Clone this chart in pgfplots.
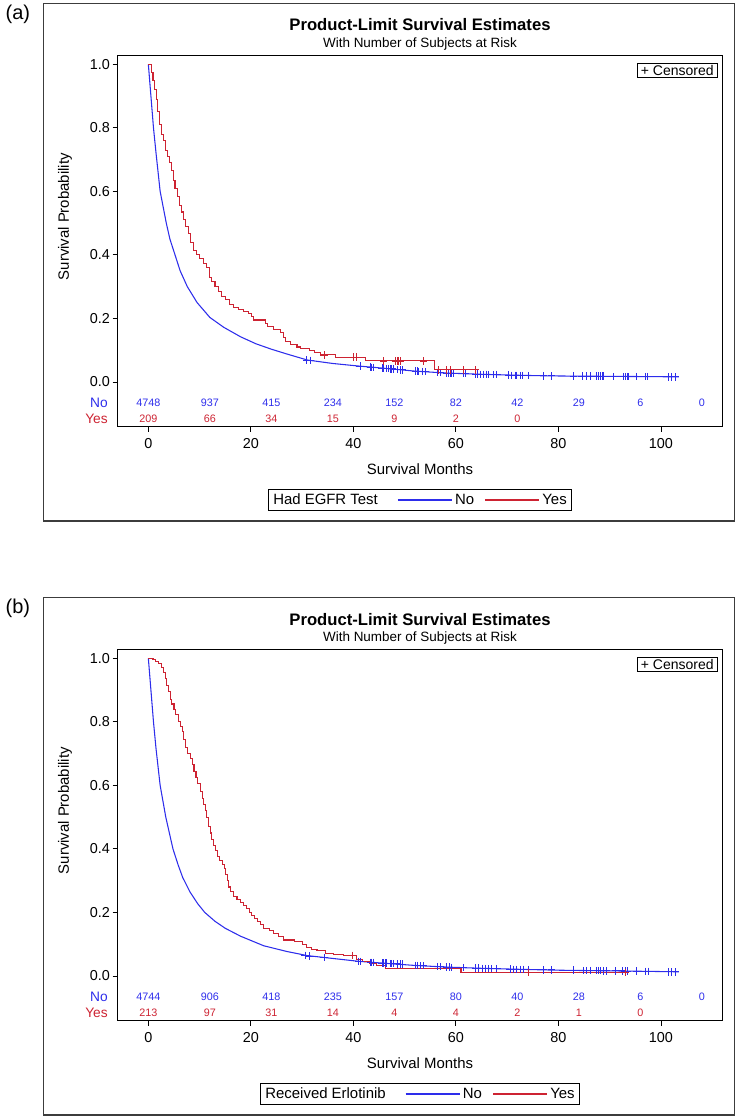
\documentclass[border=0pt]{standalone}
\usepackage{pgfplots}
\pgfplotsset{compat=1.18}
\usepackage{fontspec}
\setmainfont{Liberation Sans}
\definecolor{kmblue}{RGB}{45,45,235}
\definecolor{kmred}{RGB}{205,35,50}
\definecolor{frm}{RGB}{60,60,60}

\newcommand{\fs}[1]{\fontsize{#1}{#1}\selectfont}

\pgfplotsset{
 km/.style={
  scale only axis, width=453.6pt, height=278.25pt,
  anchor=south west,
  xmin=-6, xmax=112, ymin=-0.141, ymax=1.027,
  xtick={0,20,40,60,80,100}, ytick={0,0.2,0.4,0.6,0.8,1},
  yticklabel style={/pgf/number format/fixed, /pgf/number format/fixed zerofill, /pgf/number format/precision=1},
  /pgf/number format/assume math mode=true,
  tick pos=left, tick align=outside, major tick length=3.8pt,
  tick style={black, line width=0.6pt},
  axis line style={black, line width=0.7pt},
  ticklabel style={font=\fs{10.8}},
  xticklabel style={yshift=-1.2pt},
  yticklabel style={xshift=1.5pt},
  every axis x label/.style={at={(axis description cs:0.5,0)}, anchor=center, yshift=-32pt, font=\fs{11.2}},
  every axis y label/.style={at={(axis description cs:-0.087,0.566)}, rotate=90, anchor=center, font=\fs{11.2}},
  xlabel={Survival Months}, ylabel={Survival Probability},
  clip=false,
  legend columns=3,
  legend image code/.code={\draw[#1] (0pt,0pt) -- (40.5pt,0pt);},
  legend style={at={(axis description cs:0.5,-0.1976)}, anchor=center, draw=black, line width=0.6pt,
    font=\fs{11.2}, inner xsep=1.5pt, inner ysep=1pt, nodes={inner xsep=2pt, inner ysep=2pt}},
 },
 risk/.style={forget plot, only marks, mark=none, nodes near coords, point meta=explicit symbolic,
   nodes near coords style={anchor=center, font=\fs{8.1}, text=#1}},
 cens/.style={forget plot, only marks, mark=+, mark size=2.8pt, mark options={#1, line width=0.6pt}},
}

\begin{document}
\begin{tikzpicture}[x=0.75pt,y=-0.75pt]
\useasboundingbox (0,0) rectangle (738,1119);

% ---------------- panel (a) ----------------
\node[anchor=base west, font=\fs{15}] at (1,19.5) {(a)};
\draw[frm, line width=0.8pt] (43.5,3.5) rectangle (734.5,521);
\node[anchor=base, font=\bfseries\fs{12.5}] at (420,31) {Product-Limit Survival Estimates};
\node[anchor=base, font=\fs{10.1}] at (420,47.5) {With Number of Subjects at Risk};
\node[anchor=east, font=\fs{10.3}, text=kmblue, inner sep=0pt] at (108,402.7) {No};
\node[anchor=east, font=\fs{10.3}, text=kmred, inner sep=0pt] at (108,419) {Yes};
\coordinate (A) at (117.6,426.7);

\begin{axis}[km, at={(A)}]
\addlegendimage{empty legend}
\addlegendentry{Had EGFR Test\rule{12.6pt}{0pt}}
\addplot[kmblue, line width=0.8pt] coordinates {
(0,1.0) (0.5,0.9) (1,0.8) (1.5,0.72) (2.3,0.6) (3.5,0.5) (4.2,0.45) (5.1,0.405) (6.2,0.35)
(7.6,0.30) (9.5,0.25) (12,0.203) (14.7,0.172) (18,0.142) (21,0.12) (24,0.103) (27,0.088)
(31,0.069) (36,0.058) (41,0.050) (46,0.043) (52,0.034) (58,0.028) (65,0.024) (72,0.021)
(78,0.019) (85,0.018) (95,0.017) (103.5,0.016)};
\addlegendentry{No\rule{5.9pt}{0pt}}
\addplot[kmred, line width=0.8pt, const plot] coordinates {
(0,1.0) (0.6,0.975) (0.9,0.95) (1.2,0.92) (1.5,0.89) (1.8,0.85) (2.1,0.81) (2.5,0.78)
(2.9,0.76) (3.3,0.73) (3.7,0.71) (4.1,0.69) (4.5,0.665) (4.9,0.635) (5.2,0.61) (5.6,0.585)
(6.0,0.555) (6.5,0.535) (6.9,0.51) (7.3,0.49) (7.8,0.468) (8.3,0.44) (8.8,0.415) (9.4,0.40)
(10.0,0.388) (10.7,0.372) (11.3,0.36) (11.9,0.33) (12.4,0.315) (13.0,0.30) (13.6,0.285)
(14.3,0.268) (15.0,0.258) (15.8,0.245) (16.6,0.235) (17.5,0.228) (18.6,0.222) (19.5,0.215)
(20.2,0.205) (20.6,0.195) (22.8,0.185) (23.3,0.174) (24.5,0.165) (25.7,0.155) (26.4,0.14)
(26.8,0.128) (27.7,0.117) (29.0,0.11) (29.6,0.106) (31.5,0.098) (32.5,0.092) (33.5,0.085)
(36.5,0.078) (42.3,0.066) (55.9,0.038) (64.1,0.038)};
\addlegendentry{Yes}
\addplot[cens=kmblue] coordinates {
(30.9,0.069) (31.6,0.068) (41.3,0.050) (43.3,0.047) (43.6,0.046) (44.0,0.046) (45.6,0.044)
(45.9,0.043) (46.5,0.042) (46.9,0.042) (47.2,0.041) (47.5,0.041) (47.8,0.040) (48.5,0.039)
(49.1,0.038) (49.5,0.038) (52.1,0.034) (52.4,0.034) (52.7,0.033) (53.4,0.033) (54.0,0.032)
(56.3,0.030) (56.9,0.029) (58.2,0.028) (58.6,0.028) (58.9,0.028) (59.2,0.027) (59.5,0.027)
(61.5,0.026) (61.8,0.026) (63.8,0.025) (64.1,0.025) (64.7,0.024) (65.4,0.024) (66.0,0.024)
(66.4,0.023) (67.3,0.023) (68.0,0.023) (70.3,0.022) (70.9,0.021) (71.6,0.021) (71.9,0.021)
(72.5,0.021) (72.9,0.021) (74.2,0.020) (77.1,0.019) (78.7,0.019) (82.9,0.018) (84.6,0.018)
(85.5,0.018) (86.2,0.018) (87.5,0.018) (87.8,0.018) (88.2,0.018) (88.5,0.018) (88.8,0.018)
(90.8,0.017) (92.7,0.017) (93.0,0.017) (93.4,0.017) (93.7,0.017) (95.3,0.017) (96.9,0.017)
(97.3,0.017) (101.5,0.016) (102.1,0.016) (102.8,0.016)};
\addplot[cens=kmred] coordinates {
(34.3,0.085) (40.1,0.078) (40.6,0.078) (45.9,0.066) (48.2,0.066) (48.5,0.066) (48.8,0.066)
(49.1,0.066) (53.7,0.066) (56.6,0.038) (58.2,0.038) (58.9,0.038) (61.5,0.038) (63.8,0.038)};
\addplot[risk=kmblue] table[meta=n] {
t y n
0 -0.0655 4748
12 -0.0655 937
24 -0.0655 415
36 -0.0655 234
48 -0.0655 152
60 -0.0655 82
72 -0.0655 42
84 -0.0655 29
96 -0.0655 6
108 -0.0655 0
};
\addplot[risk=kmred] table[meta=n] {
t y n
0 -0.1168 209
12 -0.1168 66
24 -0.1168 34
36 -0.1168 15
48 -0.1168 9
60 -0.1168 2
72 -0.1168 0
};
\node[anchor=north east, draw=black, line width=0.6pt, font=\fs{10.5}, inner xsep=2.5pt, inner ysep=1.5pt]
  at (axis description cs:0.9917,0.981) {+ Censored};
\end{axis}

% ---------------- panel (b) ----------------
\node[anchor=base west, font=\fs{15}] at (1,613.5) {(b)};
\draw[frm, line width=0.8pt] (43.5,597.5) rectangle (734.5,1115);
\node[anchor=base, font=\bfseries\fs{12.5}] at (420,625) {Product-Limit Survival Estimates};
\node[anchor=base, font=\fs{10.1}] at (420,641.5) {With Number of Subjects at Risk};
\node[anchor=east, font=\fs{10.3}, text=kmblue, inner sep=0pt] at (108,996.7) {No};
\node[anchor=east, font=\fs{10.3}, text=kmred, inner sep=0pt] at (108,1013) {Yes};
\coordinate (B) at (117.6,1020.7);

\begin{axis}[km, at={(B)}]
\addlegendimage{empty legend}
\addlegendentry{Received Erlotinib\rule{12.6pt}{0pt}}
\addplot[kmblue, line width=0.8pt] coordinates {
(0,1.0) (0.5,0.9) (1,0.8) (1.5,0.715) (2.3,0.6) (3.4,0.5) (4.8,0.4) (5.8,0.35) (6.7,0.31)
(8.1,0.265) (9.6,0.228) (11,0.2) (13,0.172) (15,0.15) (18,0.125) (22.5,0.095) (27,0.077)
(31,0.064) (36,0.055) (41,0.046) (46,0.040) (52,0.033) (58,0.028) (65,0.024) (72,0.021)
(80,0.018) (90,0.016) (103.5,0.013)};
\addlegendentry{No\rule{5.9pt}{0pt}}
\addplot[kmred, line width=0.8pt, const plot] coordinates {
(0,1.0) (0.9,0.995) (1.4,0.99) (2.0,0.984) (2.6,0.972) (2.95,0.956) (3.3,0.935) (3.6,0.915)
(3.95,0.895) (4.3,0.87) (4.6,0.856) (5.0,0.838) (5.3,0.822) (5.9,0.80) (6.3,0.785) (6.6,0.77)
(6.9,0.745) (7.3,0.72) (7.6,0.70) (8.2,0.685) (8.6,0.665) (8.9,0.645) (9.3,0.625) (9.6,0.605)
(10.1,0.58) (10.5,0.56) (10.8,0.54) (11.1,0.52) (11.4,0.50) (11.7,0.47) (12.1,0.45) (12.4,0.43)
(12.8,0.41) (13.1,0.395) (13.5,0.375) (13.8,0.362) (14.4,0.35) (14.8,0.338) (15.1,0.32)
(15.4,0.30) (15.7,0.28) (16.0,0.265) (16.6,0.25) (17.3,0.24) (17.9,0.232) (18.5,0.222)
(19.2,0.212) (19.7,0.20) (20.2,0.19) (20.8,0.18) (21.3,0.172) (21.9,0.162) (22.5,0.15)
(23.6,0.143) (24.4,0.135) (25.4,0.125) (26.4,0.113) (28.6,0.108) (30.0,0.10) (30.9,0.089)
(31.8,0.084) (32.9,0.079) (34.6,0.07) (36.2,0.067) (38.0,0.065) (40.6,0.052) (41.8,0.045)
(43.1,0.039) (44.6,0.032) (46.3,0.024) (61.0,0.011) (93.6,0.011)};
\addlegendentry{Yes}
\addplot[cens=kmblue] coordinates {
(30.6,0.065) (31.4,0.063) (34.3,0.058) (41.0,0.046) (41.3,0.046) (43.3,0.043) (43.6,0.043)
(44.0,0.043) (45.6,0.041) (45.9,0.041) (46.2,0.040) (46.5,0.040) (47.2,0.039) (47.5,0.039)
(47.8,0.039) (48.5,0.038) (49.1,0.037) (49.5,0.037) (52.1,0.033) (52.4,0.033) (53.0,0.032)
(53.7,0.032) (56.3,0.029) (56.9,0.029) (58.2,0.028) (58.7,0.028) (59.2,0.027) (61.5,0.026)
(63.8,0.025) (64.4,0.025) (65.1,0.024) (65.7,0.024) (66.3,0.023) (67.0,0.023) (68.0,0.023)
(70.6,0.022) (71.2,0.021) (71.9,0.021) (72.5,0.021) (73.2,0.021) (74.2,0.020) (77.1,0.019)
(78.7,0.019) (82.9,0.018) (84.9,0.017) (85.5,0.017) (86.2,0.017) (87.5,0.017) (87.8,0.017)
(88.2,0.017) (88.8,0.016) (89.4,0.016) (91.1,0.016) (92.4,0.016) (93.0,0.015) (93.4,0.015)
(95.3,0.015) (96.9,0.014) (97.6,0.014) (101.5,0.013) (102.1,0.013) (102.8,0.013)};
\addplot[cens=kmred] coordinates {(39.9,0.065) (74.1,0.011) (93.0,0.011)};
\addplot[risk=kmblue] table[meta=n] {
t y n
0 -0.0655 4744
12 -0.0655 906
24 -0.0655 418
36 -0.0655 235
48 -0.0655 157
60 -0.0655 80
72 -0.0655 40
84 -0.0655 28
96 -0.0655 6
108 -0.0655 0
};
\addplot[risk=kmred] table[meta=n] {
t y n
0 -0.1168 213
12 -0.1168 97
24 -0.1168 31
36 -0.1168 14
48 -0.1168 4
60 -0.1168 4
72 -0.1168 2
84 -0.1168 1
96 -0.1168 0
};
\node[anchor=north east, draw=black, line width=0.6pt, font=\fs{10.5}, inner xsep=2.5pt, inner ysep=1.5pt]
  at (axis description cs:0.9917,0.981) {+ Censored};
\end{axis}
\end{tikzpicture}
\end{document}
